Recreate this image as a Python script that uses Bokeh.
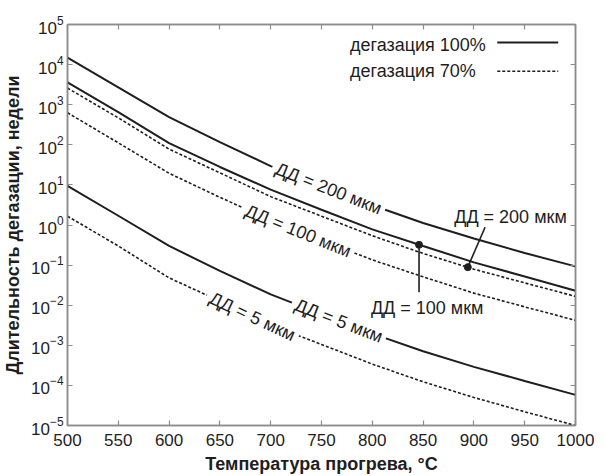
import math
from bokeh.plotting import figure
from bokeh.models import (LogAxis, LinearAxis, FixedTicker, Label,
                          CustomJSTickFormatter)
from bokeh.embed import file_html
from bokeh.resources import INLINE

# ---------------- data ----------------
temps = [500, 550, 600, 650, 700, 750, 800, 850, 900, 950, 1000]

# degassing 100 %
dd200_full = [1.5e4, 2.7e3, 4.9e2, 1.17e2, 29.5, 9.5, 3.1, 1.12, 0.46, 0.20, 0.093]
dd100_full = [3.6e3, 6.5e2, 1.1e2, 28, 7.6, 2.4, 0.78, 0.30, 0.117, 0.052, 0.023]
dd5_full = [9.5, 1.7, 0.30, 0.072, 0.0186, 6.0e-3, 1.95e-3, 7.1e-4, 2.9e-4, 1.29e-4, 5.8e-5]

# degassing 70 %
dd200_70 = [2.6e3, 4.7e2, 78, 20, 5.1, 1.66, 0.54, 0.195, 0.079, 0.036, 0.0166]
dd100_70 = [630, 112, 19.5, 4.9, 1.32, 0.42, 0.135, 0.051, 0.020, 0.0091, 0.0042]
dd5_70 = [1.66, 0.30, 0.048, 0.0126, 3.2e-3, 1.05e-3, 3.4e-4, 1.23e-4, 5.0e-5, 2.2e-5, 1.0e-5]

x_ticks = [500, 550, 600, 650, 700, 750, 800, 850, 900, 950, 1000]
y_ticks = [1e-5, 1e-4, 1e-3, 1e-2, 1e-1, 1e0, 1e1, 1e2, 1e3, 1e4, 1e5]

legend_labels = ["дегазация 100%", "дегазация 70%"]

# curve labels: text, temperature, value, angle (deg)
curve_labels = [
    ("ДД = 200 мкм", 757, 8.1, -21.5),
    ("ДД = 100 мкм", 727, 0.71, -22.0),
    ("ДД = 5 мкм", 767, 4.1e-3, -21.0),
    ("ДД = 5 мкм", 682, 5.2e-3, -25.0),
]

# callout points (temperature, value) and their labels
callout_temps = [846, 894]
callout_vals = [0.32, 0.089]
callout_texts = ["ДД = 100 мкм", "ДД = 200 мкм"]

# ---------------- styling ----------------
FONT = "Liberation Sans"
INK = "#1e1e1e"
FRAME = "#8c8c8c"
LBL = "18px"

p = figure(width=606, height=476, x_range=(500, 1000), y_range=(1e-5, 1e5),
           y_axis_type="log", output_backend="svg", toolbar_location=None,
           min_border_left=67, min_border_right=31, min_border_top=24,
           min_border_bottom=51, background_fill_color="white",
           border_fill_color="white")
p.xgrid.visible = False
p.ygrid.visible = False
p.outline_line_color = FRAME
p.outline_line_width = 1.5


def style_axis(ax, labels=True):
    ax.axis_line_color = FRAME
    ax.axis_line_width = 1.5
    ax.major_tick_line_color = FRAME
    ax.major_tick_line_width = 1.2
    ax.major_tick_in = 5
    ax.major_tick_out = 0
    ax.minor_tick_line_color = None
    ax.major_label_text_font = FONT
    ax.major_label_text_color = INK
    ax.major_label_text_font_size = "17px"
    ax.axis_label_text_font = FONT
    ax.axis_label_text_font_style = "bold"
    ax.axis_label_text_font_size = "18px"
    ax.axis_label_text_color = INK
    if not labels:
        ax.formatter = CustomJSTickFormatter(code="return ''")
        ax.major_label_text_font_size = "0px"
        ax.major_label_standoff = 0


xa = p.xaxis[0]
xa.ticker = FixedTicker(ticks=x_ticks)
style_axis(xa)
xa.axis_label = "Температура прогрева, °C"
xa.major_label_standoff = 8
xa.axis_label_standoff = 5

ya = p.yaxis[0]
ya.ticker = FixedTicker(ticks=y_ticks)
style_axis(ya)
ya.axis_label = "Длительность дегазации, недели"
ya.major_label_standoff = 4
ya.axis_label_standoff = 5

top = LinearAxis(ticker=FixedTicker(ticks=x_ticks))
style_axis(top, labels=False)
p.add_layout(top, "above")

right = LogAxis(ticker=FixedTicker(ticks=y_ticks))
style_axis(right, labels=False)
p.add_layout(right, "right")

# ---------------- curves ----------------
for ys in (dd200_full, dd100_full, dd5_full):
    p.line(temps, ys, line_color=INK, line_width=2)
for ys in (dd200_70, dd100_70, dd5_70):
    p.line(temps, ys, line_color=INK, line_width=1.6, line_dash="3 2")

# labels sitting on the curves (white box interrupts the line)
for txt, t, v, ang in curve_labels:
    p.add_layout(Label(x=t, y=v, text=txt, angle=math.radians(ang),
                       text_align="center", text_baseline="middle",
                       text_font=FONT, text_font_size=LBL, text_color=INK,
                       background_fill_color="white", padding=4))

# callouts
p.scatter(callout_temps, callout_vals, size=7, color=INK)
# leader line for 100 um: straight down; for 200 um: up to the right
p.segment(x0=[callout_temps[0], callout_temps[1]],
          y0=[callout_vals[0], callout_vals[1]],
          x1=[846, 911], y1=[0.021, 0.88], line_color=INK, line_width=1.6)
p.add_layout(Label(x=854, y=8.7e-3, text=callout_texts[0], text_align="center",
                   text_baseline="middle", text_font=FONT,
                   text_font_size=LBL, text_color=INK))
p.add_layout(Label(x=936, y=1.62, text=callout_texts[1], text_align="center",
                   text_baseline="middle", text_font=FONT,
                   text_font_size=LBL, text_color=INK))

# legend (text left, line sample right, as in the original)
p.add_layout(Label(x=778, y=3.0e4, text=legend_labels[0], text_align="left",
                   text_baseline="middle", text_font=FONT,
                   text_font_size=LBL, text_color=INK))
p.add_layout(Label(x=778, y=7.1e3, text=legend_labels[1], text_align="left",
                   text_baseline="middle", text_font=FONT,
                   text_font_size=LBL, text_color=INK))
p.line([923, 983], [3.55e4, 3.55e4], line_color=INK, line_width=2)
p.line([923, 983], [6.8e3, 6.8e3], line_color=INK, line_width=1.6,
       line_dash="3 2")

open("out.html", "w").write(file_html(p, INLINE))
